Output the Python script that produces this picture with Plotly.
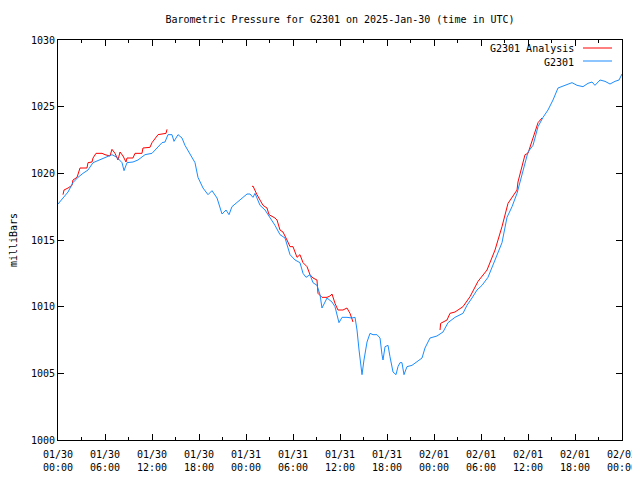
import pandas as pd
import plotly.graph_objects as go

START = "2025-01-30 00:00"

# G2301 observed (hours since start, millibars)
obs_hours = [0.0, 0.64, 1.28, 1.91, 2.55, 3.19, 3.83, 4.47, 5.36, 6.26, 6.89, 7.53, 8.17, 8.43, 8.81,
             9.57, 10.21, 11.11, 12.0, 12.64, 13.28, 13.66, 14.04, 14.55, 14.81, 15.32, 15.83, 16.21,
             16.85, 17.49, 17.87, 18.51, 19.15, 19.66, 20.30, 20.94, 21.45, 21.83, 22.21, 22.85, 23.49,
             24.13, 24.51, 24.89, 25.15, 25.79, 26.43, 27.06, 27.70, 28.34, 28.98, 29.62, 30.26, 30.89,
             31.28, 31.66, 32.17, 32.55, 33.06, 33.45, 33.70, 34.09, 34.34, 34.98, 35.36, 35.87, 36.26,
             36.89, 37.53, 37.92, 38.17, 38.43, 38.81, 39.06, 39.45, 39.83, 40.21, 40.72, 41.11, 41.36,
             41.49, 41.75, 42.13, 42.38, 42.77, 43.15, 43.40, 43.66, 43.91, 44.17, 44.55, 45.19, 45.83,
             46.47, 46.85, 47.49, 48.38, 49.15, 49.79, 50.68, 51.70, 52.21, 52.85, 53.49, 54.13, 54.89,
             55.79, 56.68, 57.32, 57.96, 58.60, 59.24, 60.00, 60.64, 61.28, 61.92, 62.55, 63.19, 63.83,
             64.72, 65.62, 66.26, 67.02, 67.66, 68.17, 68.55, 69.19, 69.83, 70.47, 71.11, 71.62, 72.0]
obs_mb = [1017.7, 1018.15, 1018.6, 1019.3, 1019.7, 1020.0, 1020.25, 1020.8, 1021.0, 1021.2, 1021.4,
          1021.2, 1020.8, 1020.2, 1020.8, 1020.85, 1021.0, 1021.4, 1021.5, 1021.9, 1022.3, 1022.35,
          1022.9, 1022.9, 1022.4, 1022.9, 1022.65, 1022.1, 1021.5, 1020.8, 1019.7, 1018.9, 1018.4,
          1018.7, 1018.15, 1016.95, 1017.25, 1016.9, 1017.5, 1017.8, 1018.15, 1018.45, 1018.45, 1018.2,
          1018.5, 1017.6, 1017.25, 1016.7, 1016.1, 1015.4, 1015.15, 1013.9, 1013.5, 1013.3, 1012.5,
          1012.2, 1012.4, 1011.8, 1011.6, 1010.9, 1009.9, 1010.35, 1010.65, 1010.35, 1010.0, 1008.8,
          1009.2, 1009.2, 1009.15, 1009.2, 1008.25, 1006.75, 1004.9, 1006.0, 1007.35, 1008.0, 1007.9,
          1007.9, 1007.65, 1006.4, 1006.0, 1007.0, 1007.1, 1006.25, 1005.1, 1004.9, 1005.5, 1005.8,
          1005.8, 1004.9, 1005.5, 1005.6, 1005.9, 1006.15, 1006.9, 1007.65, 1007.8, 1008.1, 1008.8,
          1009.2, 1009.5, 1010.1, 1010.65, 1011.25, 1011.6, 1012.2, 1013.5, 1014.8, 1016.7, 1017.5,
          1018.5, 1020.0, 1021.6, 1022.1, 1023.5, 1024.2, 1024.75, 1025.5, 1026.4, 1026.6, 1026.8,
          1026.6, 1026.5, 1026.75, 1026.85, 1026.6, 1027.0, 1026.9, 1026.7, 1026.9, 1027.0, 1027.45]

# G2301 Analysis (three runs, None separates them)
ana_hours = [0.64, 0.77, 1.28, 1.79, 1.91, 2.43, 2.81, 3.70, 3.83, 4.34, 4.47, 4.85, 5.62, 6.0, 6.64,
             6.89, 7.28, 7.66, 7.92, 8.30, 8.68, 8.81, 9.57, 9.83, 10.72, 10.85, 11.74, 12.0, 12.77,
             13.79, 13.92, None,
             24.77, 24.89, 25.40, 25.79, 26.17, 26.68, 26.94, 27.70, 27.96, 28.34, 28.72, 29.23, 29.62,
             30.0, 30.51, 30.89, 31.28, 31.79, 32.17, 32.55, 33.06, 33.19, 33.70, 34.34, 34.72, 34.98,
             35.36, 35.74, 36.38, 36.89, 37.28, 37.66, None,
             48.77, 48.85, 49.66, 50.04, 50.68, 51.70, 52.60, 53.62, 54.77, 55.79, 56.68, 57.45, 58.60,
             58.72, 59.62, 60.0, 60.64, 61.28, 61.79]
ana_mb = [1018.4, 1018.75, 1018.9, 1019.1, 1019.5, 1019.7, 1020.4, 1020.4, 1020.8, 1020.85, 1021.15,
          1021.5, 1021.5, 1021.4, 1021.3, 1021.8, 1021.5, 1021.0, 1021.6, 1021.3, 1020.85, 1021.15,
          1021.15, 1021.5, 1021.5, 1021.9, 1021.95, 1022.3, 1022.9, 1023.0, 1023.3, None,
          1019.0, 1019.05, 1018.4, 1018.0, 1017.6, 1017.4, 1016.9, 1016.65, 1016.5, 1015.75, 1015.6,
          1015.0, 1014.5, 1014.5, 1013.7, 1013.9, 1013.3, 1013.0, 1012.4, 1012.15, 1012.0, 1011.0,
          1010.7, 1010.7, 1010.8, 1010.95, 1010.25, 1009.75, 1009.75, 1009.9, 1009.5, 1008.85, None,
          1008.25, 1008.75, 1009.0, 1009.5, 1009.6, 1010.0, 1010.75, 1011.9, 1012.75, 1014.25, 1016.0,
          1017.75, 1018.75, 1019.35, 1021.4, 1021.5, 1022.65, 1023.8, 1024.15]

TITLE = "Barometric Pressure for G2301 on 2025-Jan-30 (time in UTC)"
Y_TICKS = [1000, 1005, 1010, 1015, 1020, 1025, 1030]
LEGEND_LABELS = ["G2301 Analysis", "G2301"]

t0 = pd.Timestamp(START)
def to_time(hours):
    return [None if h is None else t0 + pd.Timedelta(hours=h) for h in hours]

RED = "#ff0000"
BLUE = "#1a8cff"
FONT = "DejaVu Sans Mono"

fig = go.Figure()
fig.add_trace(go.Scatter(x=to_time(ana_hours), y=ana_mb, mode="lines", name=LEGEND_LABELS[0],
                         line=dict(color=RED, width=1), connectgaps=False))
fig.add_trace(go.Scatter(x=to_time(obs_hours), y=obs_mb, mode="lines", name=LEGEND_LABELS[1],
                         line=dict(color=BLUE, width=1)))

# legend drawn gnuplot-style (text left of sample line); screen pixel -> paper
def px(xs):
    return (xs - 58) / 564
def py(ys):
    return (440 - ys) / 400

for i, (label, col) in enumerate(zip(LEGEND_LABELS, [RED, BLUE])):
    ys = 49 + i * 13
    fig.add_annotation(x=px(576), y=py(ys), xref="paper", yref="paper", text=label, showarrow=False,
                       xanchor="right", yanchor="middle",
                       font=dict(family=FONT, size=10, color="black"))
    fig.add_shape(type="line", xref="paper", yref="paper", x0=px(583), x1=px(612),
                  y0=py(ys - 1), y1=py(ys - 1), line=dict(color=col, width=1))

# page body has an 8px offset; figure is sized so the plot sits at 58..622 x 40..440 on screen
fig.update_layout(
    width=632, height=464,
    margin=dict(l=50, r=18, t=32, b=32, autoexpand=False),
    paper_bgcolor="white", plot_bgcolor="white",
    font=dict(family=FONT, size=10, color="black"),
    title=dict(text=TITLE, x=0.5, xanchor="center", xref="paper", y=1 - 11 / 464, yanchor="middle",
               font=dict(family=FONT, size=10)),
    showlegend=False,
)
fig.update_xaxes(
    range=[t0, t0 + pd.Timedelta(hours=72)],
    tick0=t0, dtick=6 * 3600 * 1000, tickformat="%m/%d<br>%H:%M",
    ticks="inside", ticklen=6, tickcolor="black", tickwidth=1, ticklabelstandoff=5,
    ticklabeloverflow="allow",
    minor=dict(dtick=3 * 3600 * 1000, ticks="inside", ticklen=3, tickcolor="black"),
    showline=True, linecolor="black", linewidth=1, mirror="allticks",
    showgrid=False, zeroline=False,
)
fig.update_yaxes(
    range=[1000, 1030], tickvals=Y_TICKS,
    ticks="inside", ticklen=6, tickcolor="black", tickwidth=1,
    showline=True, linecolor="black", linewidth=1, mirror="allticks",
    showgrid=False, zeroline=False,
    title=dict(text="milliBars", standoff=14, font=dict(family=FONT, size=10)),
)

fig.write_html(
    "out.html",
    post_script="document.documentElement.style.overflow='hidden';document.body.style.overflow='hidden';",
)
